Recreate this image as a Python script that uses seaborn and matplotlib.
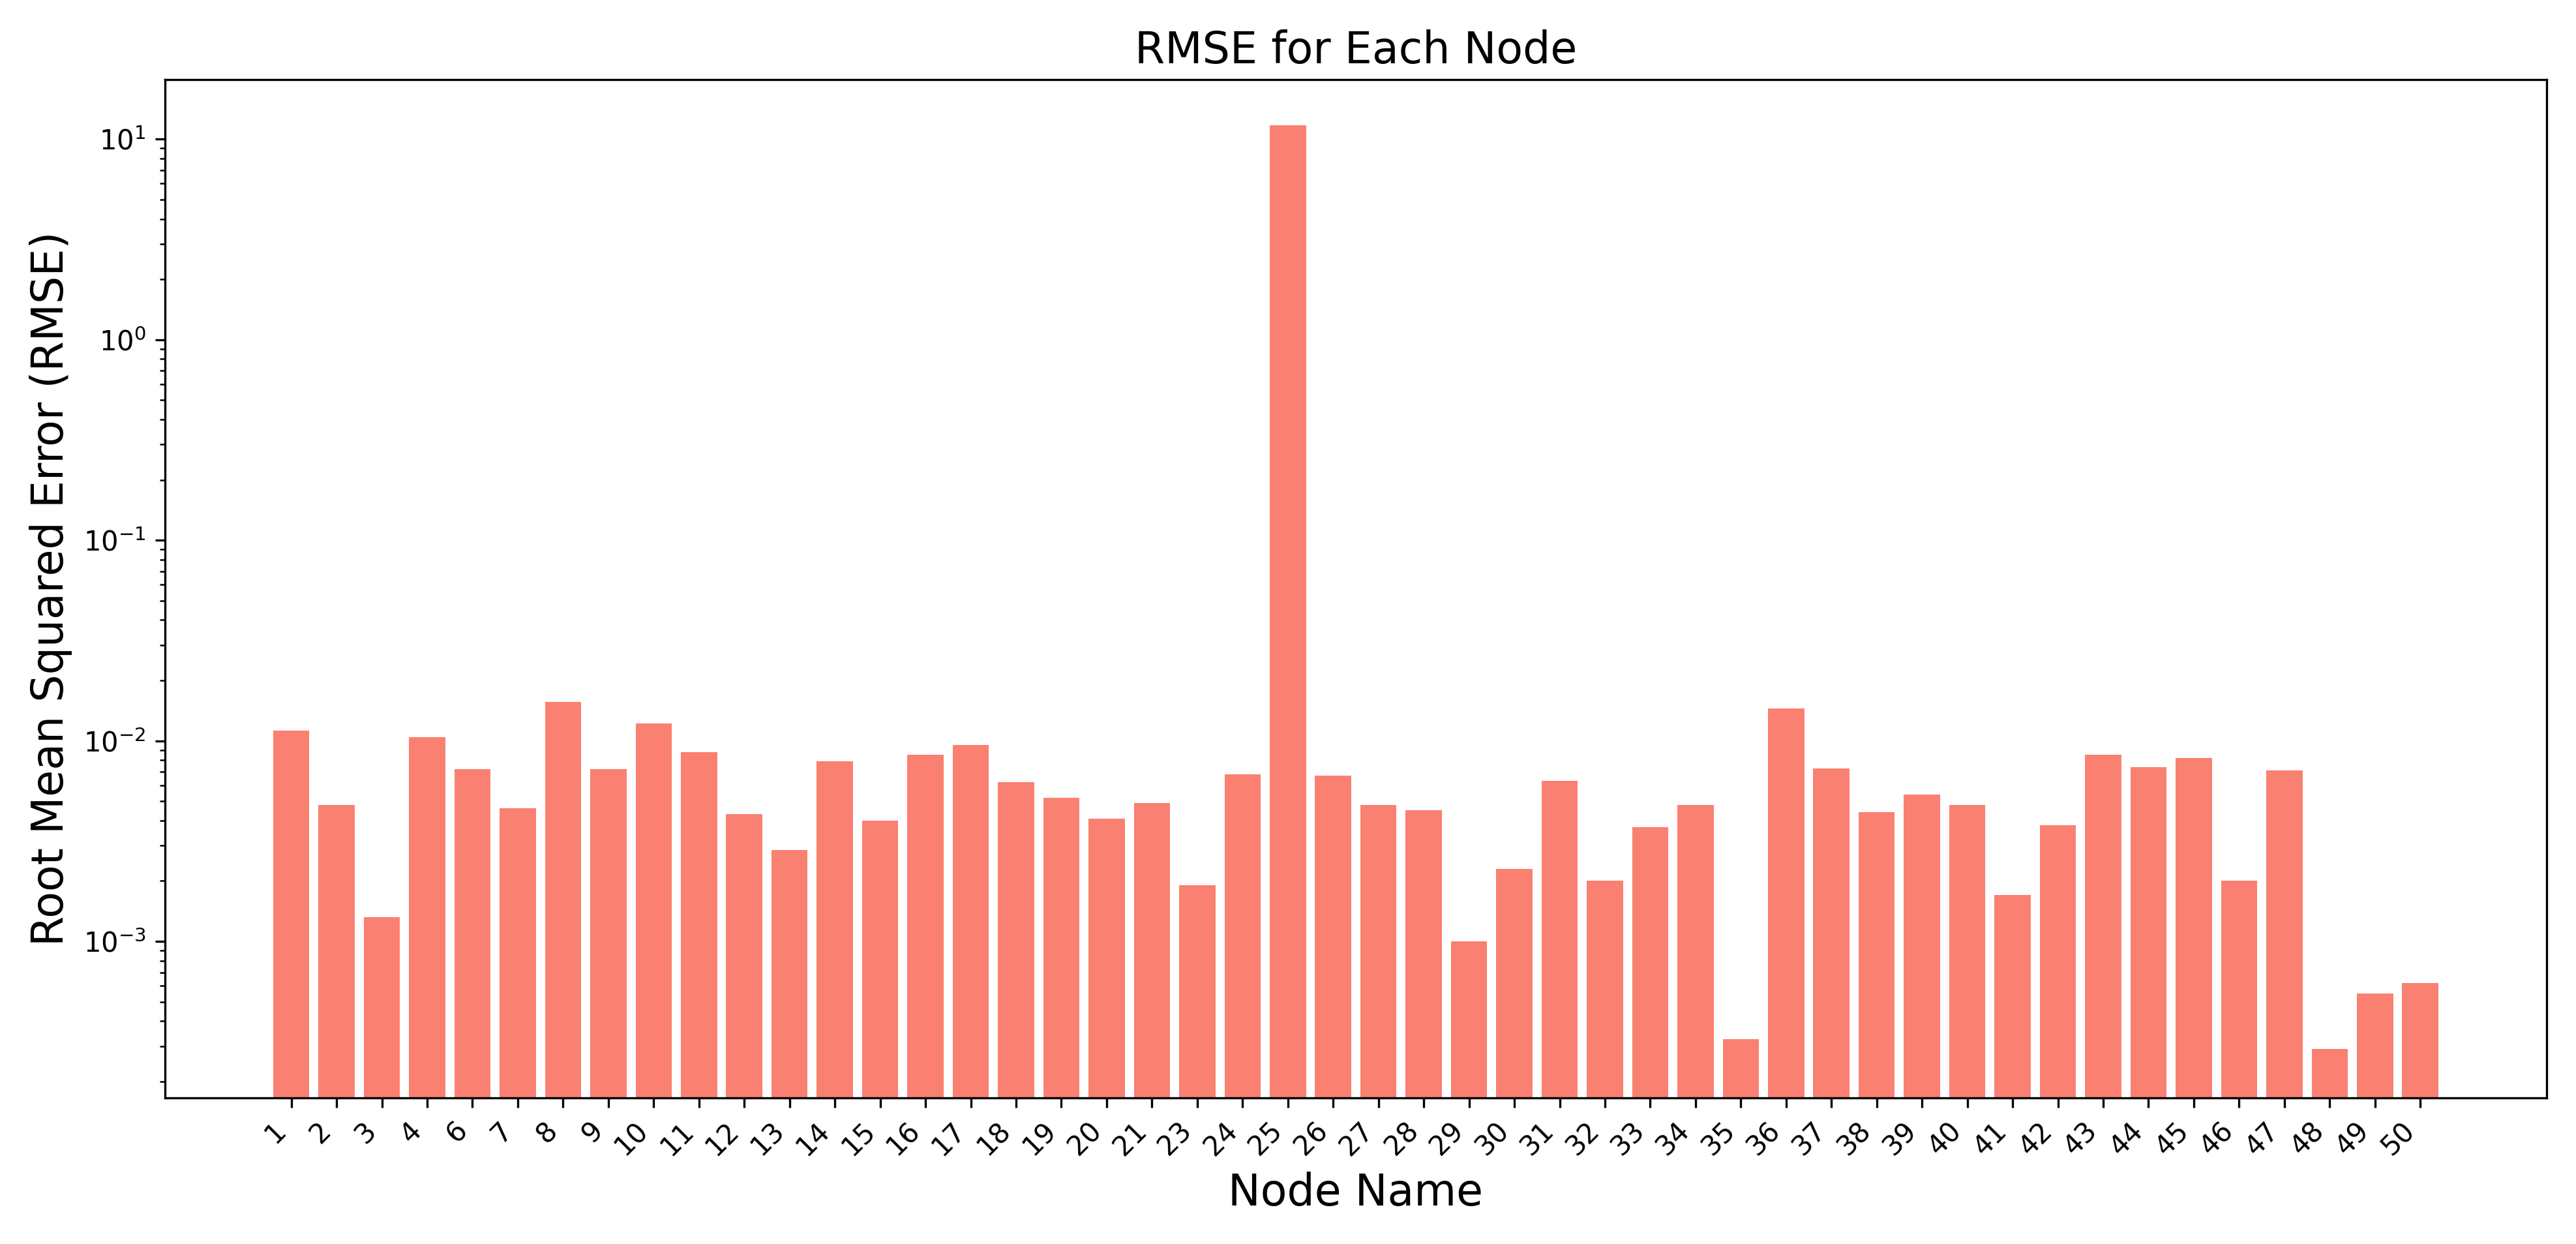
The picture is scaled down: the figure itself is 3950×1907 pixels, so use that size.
import matplotlib
matplotlib.use("Agg")
import matplotlib.pyplot as plt
import seaborn as sns
import pandas as pd

nodes = [1, 2, 3, 4, 6, 7, 8, 9, 10, 11, 12, 13, 14, 15, 16, 17, 18, 19, 20, 21,
         23, 24, 25, 26, 27, 28, 29, 30, 31, 32, 33, 34, 35, 36, 37, 38, 39, 40,
         41, 42, 43, 44, 45, 46, 47, 48, 49, 50]
rmse = [0.0112, 0.0048, 0.00132, 0.0104, 0.0072, 0.0046, 0.0156, 0.0072, 0.0122,
        0.0088, 0.0043, 0.00286, 0.0079, 0.0040, 0.0085, 0.0095, 0.0062, 0.0052,
        0.0041, 0.0049, 0.0019, 0.0068, 11.7, 0.0067, 0.0048, 0.0045, 0.0010,
        0.0023, 0.0063, 0.0020, 0.0037, 0.0048, 0.000325, 0.0145, 0.0073, 0.0044,
        0.0054, 0.0048, 0.0017, 0.0038, 0.0085, 0.0074, 0.0082, 0.0020, 0.0071,
        0.00029, 0.00055, 0.00062]

df = pd.DataFrame({'node': [str(n) for n in nodes], 'rmse': rmse})

fig, ax = plt.subplots(figsize=(13.1667, 6.3567), dpi=300)
sns.barplot(data=df, x='node', y='rmse', color='salmon', saturation=1, width=0.8, ax=ax)
ax.set_yscale('log')
n = len(nodes)
ax.set_xlim(-0.4 - 0.05 * (n - 0.2), n - 0.6 + 0.05 * (n - 0.2))
ax.set_ylim(1.66e-4, 19.8)
ax.set_title('RMSE for Each Node', fontsize=16)
ax.set_xlabel('Node Name', fontsize=16)
ax.set_ylabel('Root Mean Squared Error (RMSE)', fontsize=16)
plt.xticks(rotation=45, ha='right', fontsize=10)
plt.yticks(fontsize=10)
plt.tight_layout()
plt.savefig('out.png', dpi=300)
